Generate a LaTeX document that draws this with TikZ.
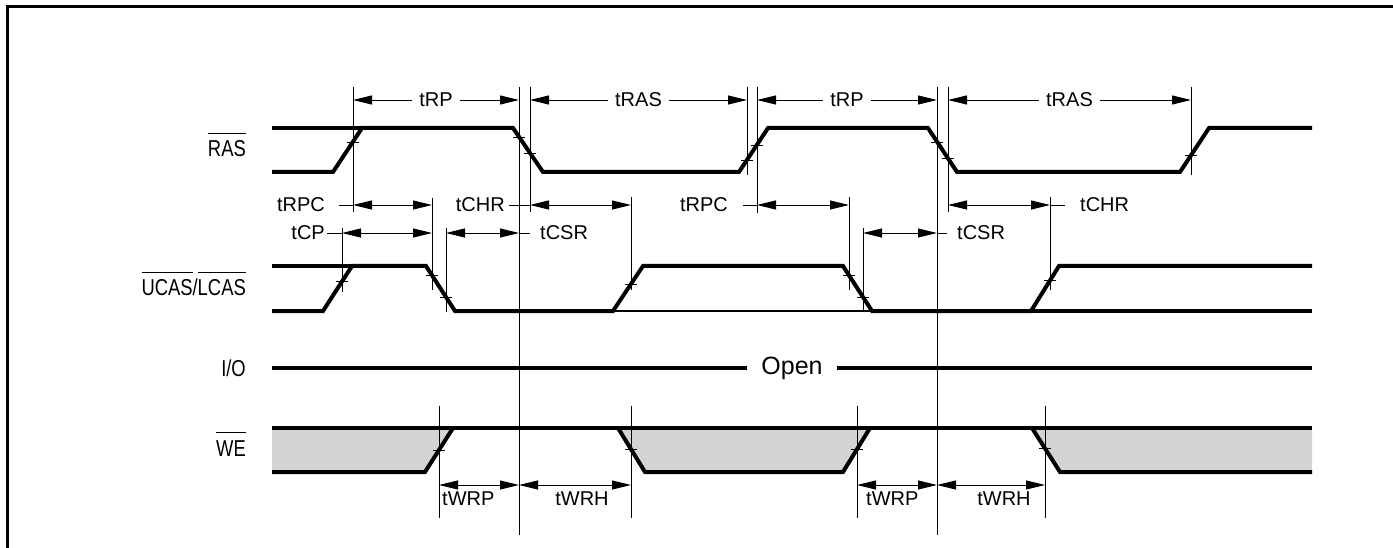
\documentclass[tikz,border=0pt]{standalone}
\usepackage{fontspec}
\setmainfont{Liberation Sans}
\newfontfamily\labfont[FakeStretch=0.8]{Liberation Sans}
\usepackage{tikz}
\usetikzlibrary{arrows.meta, calc, positioning}
\tikzstyle{sig} = [line width=4pt]
\tikzstyle{refline} = [line width=0.9pt]
\tikzstyle{dim} = [line width=0.9pt, {Triangle[length=19pt,width=9pt]}-{Triangle[length=19pt,width=9pt]}]
\tikzstyle{tlab} = [font=\fontsize{20}{24}\selectfont, inner sep=0pt]
\tikzstyle{midlab} = [tlab, fill=white, inner xsep=7pt, inner ysep=2pt]
\tikzstyle{slab} = [font=\labfont\fontsize{23}{27}\selectfont, inner sep=0pt, anchor=base east]
\tikzstyle{weshade} = [fill=black!17]
\newcommand{\nbar}[1]{\leavevmode\vbox{\hrule height 1.3pt\kern 7pt\hbox{#1}}}

\begin{document}
\begin{tikzpicture}[x=1pt, y=-1pt]
		\useasboundingbox (0,0) rectangle (1393,548);
		\draw[line width=3pt] (7,548) -- (7,7) -- (1393,7);
		% signal names
		\node[slab] (ras) at (246,157) {\nbar{RAS}};
		\node[slab] (cas) at (246,296) {\nbar{UCAS}/\nbar{LCAS}};
		\node[slab] (io) at (246,376) {I/O};
		\node[slab] (we) at (246,456) {\nbar{WE}};
		% WE shading
		\fill[weshade] (272,428) -- (453,428) -- (425,472) -- (272,472) -- cycle;
		\fill[weshade] (618,428) -- (870,428) -- (843,472) -- (645,472) -- cycle;
		\fill[weshade] (1032,428) -- (1312,428) -- (1312,472) -- (1060,472) -- cycle;
		% RAS
		\draw[sig] (272,128) -- (362,128);
		\draw[sig] (272,172) -- (333,172) -- (362,128) -- (513,128) -- (543,172) -- (739,172) -- (768,128) -- (928,128) -- (957,172) -- (1180,172) -- (1209,128) -- (1312,128);
		% UCAS/LCAS
		\draw[sig] (272,266) -- (352,266);
		\draw[sig] (272,311) -- (323,311) -- (352,266) -- (426,266) -- (455,311) -- (613,311) -- (643,266) -- (843,266) -- (872,311) -- (1031,311) -- (1059,266) -- (1312,266);
		\draw[line width=1.5pt] (613,311) -- (872,311);
		\draw[sig] (1031,311) -- (1312,311);
		% I/O
		\node[font=\fontsize{25}{29}\selectfont, inner xsep=14pt] (open) at (792,368) {Open};
		\draw[sig] (272,368) -- (open);
		\draw[sig] (open) -- (1312,368);
		% WE
		\draw[sig] (272,428) -- (1312,428);
		\draw[sig] (272,472) -- (425,472) -- (453,428);
		\draw[sig] (618,428) -- (645,472) -- (843,472) -- (870,428);
		\draw[sig] (1032,428) -- (1060,472) -- (1312,472);
		% reference lines and ticks
		\foreach \x/\a/\b in {353/87/212, 519/87/535, 530/87/212, 747/87/175, 757/87/213, 937/87/535, 948/87/212, 1191/87/175, 342/228/292, 432/198/290, 446/228/312, 631/197/290, 849/197/290, 863/228/312, 1050/197/290, 439/406/518, 631/406/518, 857/406/518, 1045/406/518}
			\draw[refline] (\x,\a) -- (\x,\b);
		\foreach \x/\y in {353/142, 519/137, 530/153, 747/160, 757/145, 937/142, 948/158, 1191/155, 342/281, 432/275, 446/297, 631/284, 849/275, 863/297, 1050/280, 439/450, 631/449, 857/449, 1045/448}
			\draw[refline] (\x-6,\y) -- (\x+6,\y);
		% row 1
		\draw[dim] (353,100) -- node[midlab] (rp1) {tRP} (519,100);
		\draw[dim] (530,100) -- node[midlab] (ras1) {tRAS} (747,100);
		\draw[dim] (757,100) -- node[midlab] (rp2) {tRP} (937,100);
		\draw[dim] (948,100) -- node[midlab] (ras2) {tRAS} (1191,100);
		% row 2
		\node[tlab, anchor=base east] (rpc1) at (325,212) {tRPC};
		\draw[refline] (339,205) -- (353,205);
		\draw[dim] (353,205) -- (432,205);
		\node[tlab, anchor=base east] (chr1) at (505,212) {tCHR};
		\draw[refline] (509,205) -- (530,205);
		\draw[dim] (530,205) -- (631,205);
		\node[tlab, anchor=base east] (rpc2) at (728,212) {tRPC};
		\draw[refline] (743,205) -- (757,205);
		\draw[dim] (757,205) -- (849,205);
		\draw[dim] (948,205) -- (1050,205);
		\draw[refline] (1050,205) -- (1065,205);
		\node[tlab, anchor=base west] (chr2) at (1080,212) {tCHR};
		% row 3
		\node[tlab, anchor=base east] (cp1) at (325,240) {tCP};
		\draw[refline] (327,233) -- (342,233);
		\draw[dim] (342,233) -- (432,233);
		\draw[dim] (446,233) -- (519,233);
		\draw[refline] (519,233) -- (530,233);
		\node[tlab, anchor=base west] (csr1) at (540,240) {tCSR};
		\draw[dim] (863,233) -- (937,233);
		\draw[refline] (937,233) -- (947,233);
		\node[tlab, anchor=base west] (csr2) at (957,240) {tCSR};
		% WE timings
		\draw[dim] (439,485) -- (519,485);
		\node[tlab, anchor=base west] (wrp1) at (442,505) {tWRP};
		\draw[dim] (519,485) -- (631,485);
		\node[tlab, anchor=base] (wrh1) at (582,505) {tWRH};
		\draw[dim] (857,485) -- (937,485);
		\node[tlab, anchor=base west] (wrp2) at (866,505) {tWRP};
		\draw[dim] (937,485) -- (1045,485);
		\node[tlab, anchor=base] (wrh2) at (1004,505) {tWRH};
\end{tikzpicture}
\end{document}
